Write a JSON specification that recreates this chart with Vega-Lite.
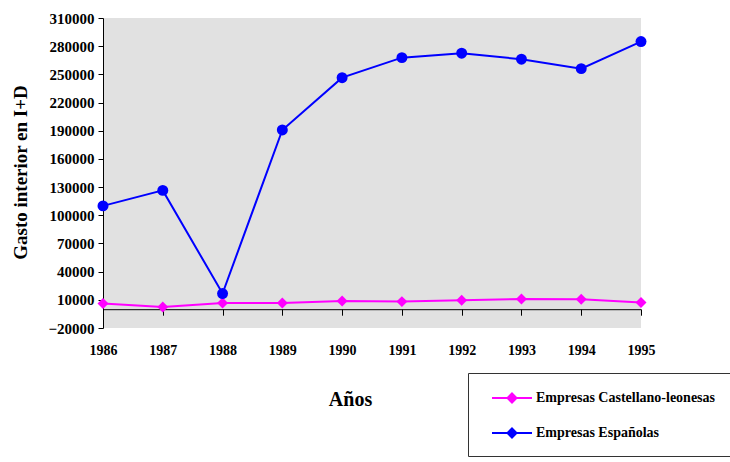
{
  "$schema": "https://vega.github.io/schema/vega-lite/v6.json",
  "width": 538,
  "height": 310,
  "autosize": {"type": "none"},
  "padding": {"left": 103, "top": 18, "right": 89, "bottom": 134},
  "background": "#ffffff",
  "config": {
    "view": {"stroke": null, "fill": "#e1e1e1"},
    "font": "Liberation Serif"
  },
  "data": {
    "values": [
      {"year": 1986, "series": "Empresas Castellano-leonesas", "value": 6000},
      {"year": 1987, "series": "Empresas Castellano-leonesas", "value": 2400},
      {"year": 1988, "series": "Empresas Castellano-leonesas", "value": 6650},
      {"year": 1989, "series": "Empresas Castellano-leonesas", "value": 6650},
      {"year": 1990, "series": "Empresas Castellano-leonesas", "value": 8800},
      {"year": 1991, "series": "Empresas Castellano-leonesas", "value": 8100},
      {"year": 1992, "series": "Empresas Castellano-leonesas", "value": 9500},
      {"year": 1993, "series": "Empresas Castellano-leonesas", "value": 10900},
      {"year": 1994, "series": "Empresas Castellano-leonesas", "value": 10600},
      {"year": 1995, "series": "Empresas Castellano-leonesas", "value": 7100},
      {"year": 1986, "series": "Empresas Españolas", "value": 110000},
      {"year": 1987, "series": "Empresas Españolas", "value": 126500},
      {"year": 1988, "series": "Empresas Españolas", "value": 16700},
      {"year": 1989, "series": "Empresas Españolas", "value": 190800},
      {"year": 1990, "series": "Empresas Españolas", "value": 246500},
      {"year": 1991, "series": "Empresas Españolas", "value": 267800},
      {"year": 1992, "series": "Empresas Españolas", "value": 272500},
      {"year": 1993, "series": "Empresas Españolas", "value": 266100},
      {"year": 1994, "series": "Empresas Españolas", "value": 256100},
      {"year": 1995, "series": "Empresas Españolas", "value": 284900}
    ]
  },
  "encoding": {
    "x": {
      "field": "year", "type": "quantitative",
      "scale": {"domain": [1986, 1995], "nice": false, "zero": false},
      "axis": {
        "title": "Años",
        "values": [1986, 1987, 1988, 1989, 1990, 1991, 1992, 1993, 1994, 1995],
        "format": "d",
        "offset": -18.8,
        "grid": false,
        "domainColor": "#000000", "domainWidth": 1,
        "tickColor": "#000000", "tickSize": 6, "tickWidth": 1,
        "labelPadding": 28,
        "labelFlush": false, "labelOverlap": false,
        "labelFont": "Liberation Serif", "labelFontSize": 14, "labelFontWeight": "bold", "labelColor": "#000000",
        "titleFont": "Liberation Serif", "titleFontSize": 20, "titleFontWeight": "bold", "titleColor": "#000000",
        "titleX": 247, "titleY": 90, "titleBaseline": "middle", "titleAlign": "center"
      }
    },
    "y": {
      "field": "value", "type": "quantitative",
      "scale": {"domain": [-20000, 310000], "nice": false, "zero": false},
      "axis": {
        "title": "Gasto interior en I+D",
        "values": [-20000, 10000, 40000, 70000, 100000, 130000, 160000, 190000, 220000, 250000, 280000, 310000],
        "format": "d",
        "grid": false,
        "domainColor": "#000000", "domainWidth": 1,
        "tickColor": "#000000", "tickSize": 5, "tickWidth": 1,
        "labelPadding": 4,
        "labelOverlap": false, "labelFlush": false,
        "labelFont": "Liberation Serif", "labelFontSize": 15, "labelFontWeight": "bold", "labelColor": "#000000",
        "titleFont": "Liberation Serif", "titleFontSize": 19, "titleFontWeight": "bold", "titleColor": "#000000",
        "titleX": -83, "titleY": 154, "titleBaseline": "middle", "titleAlign": "center", "titleAngle": -90
      }
    },
    "color": {
      "field": "series", "type": "nominal",
      "scale": {"domain": ["Empresas Castellano-leonesas", "Empresas Españolas"], "range": ["#ff00ff", "#0000ff"]},
      "legend": {
        "title": null,
        "orient": "none", "legendX": 365, "legendY": 355,
        "strokeColor": "#333333", "fillColor": "#ffffff", "padding": 14,
        "symbolSize": 400, "symbolOffset": 19, "labelOffset": 13, "rowPadding": 15,
        "symbolStrokeWidth": 2,
        "labelFont": "Liberation Serif", "labelFontSize": 14, "labelFontWeight": "bold", "labelColor": "#000000", "labelLimit": 400,
        "labelExpr": "datum.label + '\u00a0\u00a0\u00a0\u00a0\u00a0'",
        "encode": {
          "symbols": {
            "update": {
              "shape": {
                "condition": {"test": "datum.index === 1 || datum.value === 'Empresas Españolas' || datum.label === 'Empresas Españolas'", "value": "M-2,0L2,0M0.45,0L0.416,0.172L0.318,0.318L0.172,0.416L0,0.45L-0.172,0.416L-0.318,0.318L-0.416,0.172L-0.45,0L-0.416,-0.172L-0.318,-0.318L-0.172,-0.416L0,-0.45L0.172,-0.416L0.318,-0.318L0.416,-0.172Z"},
                "value": "M-2,0L2,0M0,-0.45L0.45,0L0,0.45L-0.45,0Z"
              },
              "fill": {
                "condition": {"test": "datum.value === 'Empresas Españolas'", "value": "#0000ff"},
                "value": "#ff00ff"
              },
              "stroke": {
                "condition": {"test": "datum.value === 'Empresas Españolas'", "value": "#0000ff"},
                "value": "#ff00ff"
              },
              "opacity": {"value": 1}
            }
          }
        }
      }
    }
  },
  "layer": [
    {
      "mark": {"type": "line", "strokeWidth": 2}
    },
    {
      "mark": {"type": "point", "filled": true, "opacity": 1, "size": 120},
      "encoding": {
        "shape": {
          "condition": {"test": "datum.series === 'Empresas Españolas'", "value": "circle"},
          "value": "diamond"
        }
      }
    }
  ]
}
